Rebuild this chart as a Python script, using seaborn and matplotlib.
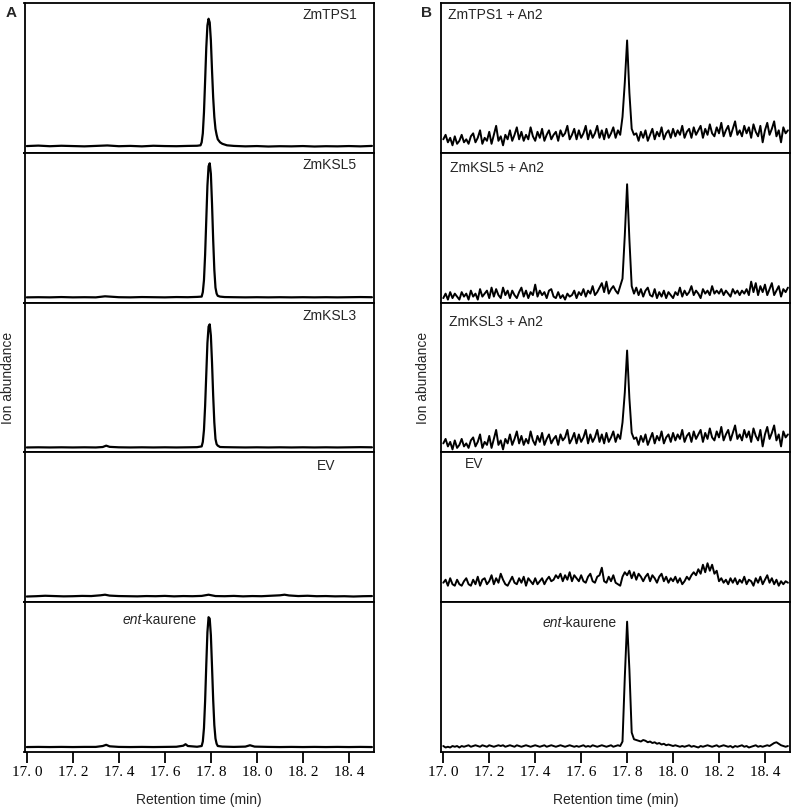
import numpy as np
import pandas as pd
import matplotlib
matplotlib.use("Agg")
import matplotlib.pyplot as plt
import seaborn as sns

sns.set_theme(style="white")
plt.rcParams['font.family'] = ['Liberation Sans', 'DejaVu Sans']

# ---------------- data ----------------
TICKS = [17.0, 17.2, 17.4, 17.6, 17.8, 18.0, 18.2, 18.4]
TICK_LABELS = ["17. 0", "17. 2", "17. 4", "17. 6", "17. 8", "18. 0", "18. 2", "18. 4"]
XLIM = (16.99, 18.509)

LABELS_A = ["ZmTPS1", "ZmKSL5", "ZmKSL3", "EV", "ent-kaurene"]
LABELS_B = ["ZmTPS1 + An2", "ZmKSL5 + An2", "ZmKSL3 + An2", "EV", "ent-kaurene"]

# Panel A traces (retention time, relative abundance)
A1_X = [17.00, 17.05, 17.10, 17.15, 17.20, 17.25, 17.30, 17.35, 17.40, 17.45, 17.50, 17.55,
        17.60, 17.65, 17.70, 17.74, 17.755, 17.76, 17.765, 17.77, 17.775, 17.78, 17.785,
        17.79, 17.795, 17.80, 17.805, 17.81, 17.815, 17.82, 17.825, 17.83, 17.84, 17.85,
        17.87, 17.90, 17.95, 18.00, 18.05, 18.10, 18.15, 18.20, 18.25, 18.30, 18.35, 18.40,
        18.45, 18.50]
A1_Y = [0.045, 0.048, 0.044, 0.047, 0.045, 0.043, 0.046, 0.049, 0.044, 0.046, 0.043, 0.047,
        0.045, 0.044, 0.046, 0.047, 0.05, 0.07, 0.13, 0.27, 0.48, 0.70, 0.85,
        0.895, 0.87, 0.75, 0.55, 0.37, 0.24, 0.16, 0.12, 0.09, 0.07, 0.06,
        0.05, 0.046, 0.043, 0.045, 0.042, 0.044, 0.043, 0.045, 0.042, 0.044, 0.043, 0.045,
        0.043, 0.046]

A2_X = [17.00, 17.05, 17.10, 17.15, 17.20, 17.25, 17.30, 17.34, 17.40, 17.45, 17.50, 17.55,
        17.60, 17.65, 17.70, 17.74, 17.76, 17.765, 17.77, 17.775, 17.78, 17.785, 17.79,
        17.795, 17.80, 17.805, 17.81, 17.815, 17.82, 17.825, 17.83, 17.84, 17.86, 17.90,
        17.95, 18.00, 18.05, 18.10, 18.15, 18.20, 18.25, 18.30, 18.35, 18.40, 18.45, 18.50]
A2_Y = [0.035, 0.036, 0.035, 0.037, 0.035, 0.036, 0.035, 0.042, 0.036, 0.035, 0.037, 0.036,
        0.035, 0.037, 0.036, 0.038, 0.04, 0.07, 0.15, 0.32, 0.55, 0.78, 0.91,
        0.93, 0.86, 0.66, 0.42, 0.22, 0.10, 0.06, 0.045, 0.04, 0.037, 0.036,
        0.035, 0.036, 0.035, 0.036, 0.035, 0.036, 0.035, 0.036, 0.035, 0.036, 0.037, 0.036]

A3_X = [17.00, 17.05, 17.10, 17.15, 17.20, 17.25, 17.30, 17.33, 17.345, 17.36, 17.40, 17.45,
        17.50, 17.55, 17.60, 17.65, 17.70, 17.74, 17.76, 17.765, 17.77, 17.775, 17.78,
        17.785, 17.79, 17.795, 17.80, 17.805, 17.81, 17.815, 17.82, 17.825, 17.83, 17.84,
        17.86, 17.90, 17.95, 18.00, 18.05, 18.10, 18.15, 18.20, 18.25, 18.30, 18.35, 18.40,
        18.45, 18.50]
A3_Y = [0.033, 0.034, 0.033, 0.034, 0.033, 0.034, 0.033, 0.036, 0.045, 0.037, 0.034, 0.033,
        0.034, 0.033, 0.034, 0.033, 0.034, 0.035, 0.04, 0.07, 0.15, 0.31, 0.52,
        0.73, 0.84, 0.855, 0.78, 0.60, 0.38, 0.20, 0.09, 0.055, 0.045, 0.036,
        0.035, 0.034, 0.033, 0.034, 0.033, 0.034, 0.033, 0.034, 0.033, 0.034, 0.033, 0.034,
        0.035, 0.034]

A4_X = [17.00, 17.04, 17.08, 17.12, 17.16, 17.20, 17.24, 17.28, 17.32, 17.34, 17.36, 17.40,
        17.44, 17.48, 17.52, 17.56, 17.60, 17.64, 17.68, 17.72, 17.76, 17.79, 17.82, 17.86,
        17.90, 17.94, 17.98, 18.02, 18.06, 18.10, 18.12, 18.14, 18.18, 18.22, 18.26, 18.30,
        18.34, 18.38, 18.42, 18.46, 18.50]
A4_Y = [0.038, 0.040, 0.043, 0.041, 0.039, 0.040, 0.042, 0.041, 0.046, 0.050, 0.044, 0.041,
        0.040, 0.039, 0.041, 0.040, 0.042, 0.039, 0.041, 0.040, 0.042, 0.050, 0.041, 0.040,
        0.042, 0.039, 0.041, 0.040, 0.043, 0.046, 0.050, 0.045, 0.041, 0.043, 0.040, 0.041,
        0.039, 0.040, 0.038, 0.040, 0.041]

A5_X = [17.00, 17.05, 17.10, 17.15, 17.20, 17.25, 17.30, 17.33, 17.345, 17.36, 17.40, 17.45,
        17.50, 17.55, 17.60, 17.65, 17.68, 17.69, 17.70, 17.74, 17.76, 17.765, 17.77,
        17.775, 17.78, 17.785, 17.79, 17.795, 17.80, 17.805, 17.81, 17.815, 17.82, 17.825,
        17.83, 17.85, 17.90, 17.95, 17.97, 17.99, 18.05, 18.10, 18.15, 18.20, 18.25, 18.30,
        18.35, 18.40, 18.45, 18.50]
A5_Y = [0.033, 0.034, 0.033, 0.034, 0.033, 0.034, 0.034, 0.040, 0.048, 0.038, 0.034, 0.033,
        0.034, 0.033, 0.034, 0.035, 0.042, 0.052, 0.040, 0.035, 0.04, 0.07, 0.16,
        0.34, 0.58, 0.80, 0.90, 0.89, 0.78, 0.57, 0.35, 0.18, 0.09, 0.055,
        0.04, 0.036, 0.034, 0.036, 0.045, 0.036, 0.034, 0.033, 0.034, 0.033, 0.034, 0.033,
        0.034, 0.033, 0.034, 0.033]

# Panel B traces: readings every 0.01 min from 17.00 to 18.50
B1_Y = [0.09, 0.12, 0.07, 0.10, 0.05, 0.11, 0.06, 0.08, 0.12, 0.07,
        0.09, 0.06, 0.11, 0.13, 0.07, 0.10, 0.15, 0.06, 0.10, 0.08,
        0.14, 0.06, 0.12, 0.18, 0.08, 0.11, 0.05, 0.12, 0.09, 0.15,
        0.08, 0.12, 0.17, 0.09, 0.14, 0.08, 0.12, 0.09, 0.17, 0.11,
        0.08, 0.14, 0.10, 0.16, 0.08, 0.12, 0.15, 0.09, 0.12, 0.14,
        0.08, 0.15, 0.11, 0.13, 0.18, 0.09, 0.12, 0.16, 0.09, 0.15,
        0.10, 0.13, 0.18, 0.09, 0.15, 0.10, 0.13, 0.18, 0.10, 0.15,
        0.09, 0.16, 0.10, 0.13, 0.17, 0.10, 0.15, 0.12, 0.24, 0.47,
        0.75, 0.40, 0.16, 0.12, 0.13, 0.08, 0.14, 0.10, 0.15, 0.08,
        0.12, 0.16, 0.09, 0.14, 0.11, 0.17, 0.09, 0.13, 0.15, 0.10,
        0.16, 0.11, 0.15, 0.12, 0.18, 0.10, 0.14, 0.16, 0.10, 0.17,
        0.12, 0.15, 0.18, 0.10, 0.16, 0.12, 0.19, 0.13, 0.11, 0.17,
        0.13, 0.20, 0.11, 0.15, 0.18, 0.11, 0.16, 0.21, 0.12, 0.15,
        0.11, 0.18, 0.13, 0.17, 0.10, 0.19, 0.14, 0.11, 0.18, 0.07,
        0.15, 0.20, 0.12, 0.16, 0.21, 0.11, 0.15, 0.07, 0.17, 0.13,
        0.15]

B2_Y = [0.03, 0.06, 0.02, 0.07, 0.03, 0.06, 0.04, 0.02, 0.07, 0.04,
        0.06, 0.02, 0.08, 0.04, 0.06, 0.02, 0.09, 0.04, 0.06, 0.08,
        0.03, 0.10, 0.04, 0.09, 0.05, 0.03, 0.10, 0.05, 0.08, 0.03,
        0.08, 0.05, 0.03, 0.07, 0.10, 0.04, 0.08, 0.03, 0.07, 0.05,
        0.12, 0.04, 0.08, 0.05, 0.07, 0.03, 0.08, 0.09, 0.04, 0.03,
        0.07, 0.03, 0.05, 0.02, 0.06, 0.04, 0.05, 0.08, 0.03, 0.07,
        0.05, 0.09, 0.04, 0.08, 0.06, 0.11, 0.05, 0.07, 0.10, 0.13,
        0.07, 0.14, 0.06, 0.09, 0.11, 0.08, 0.06, 0.11, 0.16, 0.45,
        0.79, 0.42, 0.11, 0.06, 0.10, 0.05, 0.09, 0.04, 0.08, 0.10,
        0.05, 0.04, 0.09, 0.03, 0.07, 0.04, 0.08, 0.03, 0.07, 0.05,
        0.03, 0.07, 0.05, 0.10, 0.04, 0.08, 0.05, 0.07, 0.11, 0.05,
        0.08, 0.06, 0.03, 0.09, 0.06, 0.08, 0.05, 0.11, 0.06, 0.08,
        0.06, 0.09, 0.05, 0.08, 0.06, 0.04, 0.09, 0.06, 0.08, 0.05,
        0.08, 0.06, 0.09, 0.05, 0.14, 0.07, 0.13, 0.05, 0.11, 0.07,
        0.12, 0.05, 0.09, 0.13, 0.05, 0.08, 0.11, 0.04, 0.09, 0.07,
        0.10]

B3_Y = [0.06, 0.09, 0.04, 0.07, 0.02, 0.08, 0.03, 0.05, 0.09, 0.04,
        0.06, 0.03, 0.08, 0.10, 0.04, 0.07, 0.12, 0.03, 0.07, 0.05,
        0.11, 0.03, 0.09, 0.15, 0.05, 0.08, 0.02, 0.09, 0.06, 0.12,
        0.05, 0.09, 0.14, 0.06, 0.11, 0.05, 0.09, 0.06, 0.14, 0.08,
        0.05, 0.11, 0.07, 0.13, 0.05, 0.09, 0.12, 0.06, 0.09, 0.11,
        0.05, 0.12, 0.08, 0.10, 0.15, 0.06, 0.09, 0.13, 0.06, 0.12,
        0.07, 0.10, 0.15, 0.06, 0.12, 0.07, 0.10, 0.15, 0.07, 0.12,
        0.06, 0.13, 0.07, 0.10, 0.14, 0.07, 0.12, 0.09, 0.20, 0.40,
        0.68, 0.36, 0.13, 0.09, 0.10, 0.05, 0.11, 0.07, 0.12, 0.05,
        0.09, 0.13, 0.06, 0.11, 0.08, 0.14, 0.06, 0.10, 0.12, 0.07,
        0.13, 0.08, 0.12, 0.09, 0.15, 0.07, 0.11, 0.13, 0.07, 0.14,
        0.09, 0.12, 0.15, 0.07, 0.13, 0.09, 0.16, 0.10, 0.08, 0.14,
        0.10, 0.17, 0.08, 0.12, 0.15, 0.08, 0.13, 0.18, 0.09, 0.12,
        0.08, 0.15, 0.10, 0.14, 0.07, 0.16, 0.11, 0.08, 0.15, 0.04,
        0.12, 0.17, 0.09, 0.13, 0.18, 0.08, 0.12, 0.04, 0.14, 0.10,
        0.12]

B4_Y = [0.13, 0.15, 0.11, 0.16, 0.12, 0.11, 0.15, 0.12, 0.11, 0.14,
        0.16, 0.12, 0.11, 0.15, 0.12, 0.17, 0.11, 0.15, 0.16, 0.12,
        0.14, 0.18, 0.12, 0.16, 0.13, 0.19, 0.15, 0.12, 0.11, 0.14,
        0.17, 0.13, 0.12, 0.16, 0.13, 0.17, 0.11, 0.16, 0.14, 0.12,
        0.16, 0.12, 0.14, 0.16, 0.12, 0.15, 0.17, 0.14, 0.15, 0.18,
        0.16, 0.19, 0.14, 0.18, 0.15, 0.20, 0.14, 0.18, 0.16, 0.14,
        0.18, 0.14, 0.13, 0.17, 0.19, 0.14, 0.13, 0.17, 0.18, 0.23,
        0.14, 0.13, 0.17, 0.14, 0.18, 0.13, 0.12, 0.11, 0.17, 0.20,
        0.18, 0.21, 0.16, 0.20, 0.15, 0.19, 0.17, 0.14, 0.17, 0.19,
        0.14, 0.18, 0.16, 0.13, 0.17, 0.19, 0.14, 0.17, 0.13, 0.16,
        0.14, 0.17, 0.13, 0.16, 0.12, 0.14, 0.17, 0.15, 0.18, 0.20,
        0.18, 0.22, 0.19, 0.25, 0.20, 0.26, 0.21, 0.25, 0.19, 0.21,
        0.14, 0.16, 0.13, 0.15, 0.12, 0.16, 0.13, 0.16, 0.12, 0.15,
        0.13, 0.17, 0.12, 0.15, 0.14, 0.11, 0.16, 0.13, 0.17, 0.12,
        0.15, 0.18, 0.13, 0.16, 0.12, 0.15, 0.11, 0.14, 0.12, 0.14,
        0.13]

B5_Y = [0.040, 0.030, 0.035, 0.030, 0.040, 0.035, 0.040, 0.030, 0.040, 0.035,
        0.040, 0.045, 0.035, 0.040, 0.045, 0.040, 0.035, 0.045, 0.040, 0.035,
        0.045, 0.040, 0.035, 0.040, 0.045, 0.040, 0.045, 0.035, 0.040, 0.045,
        0.040, 0.035, 0.045, 0.040, 0.035, 0.040, 0.045, 0.040, 0.035, 0.040,
        0.045, 0.040, 0.035, 0.040, 0.045, 0.035, 0.040, 0.045, 0.040, 0.035,
        0.040, 0.045, 0.040, 0.035, 0.040, 0.045, 0.040, 0.035, 0.040, 0.035,
        0.040, 0.045, 0.035, 0.040, 0.035, 0.045, 0.040, 0.035, 0.040, 0.045,
        0.040, 0.035, 0.040, 0.045, 0.035, 0.040, 0.045, 0.040, 0.070, 0.500,
        0.870, 0.550, 0.130, 0.085, 0.080, 0.075, 0.070, 0.080, 0.075, 0.065,
        0.070, 0.060, 0.065, 0.055, 0.060, 0.050, 0.055, 0.045, 0.050, 0.045,
        0.040, 0.045, 0.040, 0.035, 0.040, 0.035, 0.040, 0.045, 0.035, 0.040,
        0.035, 0.030, 0.040, 0.035, 0.040, 0.045, 0.040, 0.035, 0.040, 0.045,
        0.035, 0.040, 0.045, 0.040, 0.035, 0.040, 0.030, 0.040, 0.035, 0.040,
        0.045, 0.035, 0.040, 0.030, 0.035, 0.040, 0.045, 0.035, 0.040, 0.035,
        0.040, 0.045, 0.040, 0.050, 0.060, 0.065, 0.055, 0.045, 0.040, 0.035,
        0.040]

A_TRACES = [(A1_X, A1_Y), (A2_X, A2_Y), (A3_X, A3_Y), (A4_X, A4_Y), (A5_X, A5_Y)]
B_TRACES = [B1_Y, B2_Y, B3_Y, B4_Y, B5_Y]

# label anchor (axes fraction)
LABEL_POS_A = [(0.795, 0.92), (0.795, 0.917), (0.795, 0.913), (0.836, 0.907), (0.28, 0.88)]
LABEL_POS_B = [(0.02, 0.92), (0.025, 0.90), (0.023, 0.873), (0.069, 0.92), (0.29, 0.864)]

# ---------------- figure ----------------
fig = plt.figure(figsize=(7.93, 8.10), dpi=100)

top = 1 - 3 / 810
bottom = 1 - 752 / 810
h = (top - bottom) / 5
panels = [(24.5 / 793, 349.5 / 793), (441 / 793, 349 / 793)]


def draw_label(ax, text, pos):
    if text == "ent-kaurene":
        t = ax.text(pos[0], pos[1], "ent", transform=ax.transAxes, fontsize=10,
                    style="italic", va="center", ha="left")
        fig.canvas.draw()
        bb = t.get_window_extent().transformed(ax.transAxes.inverted())
        ax.text(bb.x1, pos[1], "-kaurene", transform=ax.transAxes, fontsize=10,
                va="center", ha="left")
    else:
        ax.text(pos[0], pos[1], text, transform=ax.transAxes, fontsize=10,
                va="center", ha="left")


for p, (left, width) in enumerate(panels):
    for i in range(5):
        ax = fig.add_axes([left, top - (i + 1) * h, width, h])
        if p == 0:
            xs, ys = A_TRACES[i]
            df = pd.DataFrame({"t": xs, "y": ys})
            lw = 1.6
        else:
            ys = B_TRACES[i]
            xs = np.linspace(17.0, 18.5, len(ys))
            df = pd.DataFrame({"t": xs, "y": ys})
            lw = 1.4
        sns.lineplot(data=df, x="t", y="y", ax=ax, color="black", linewidth=lw,
                     estimator=None, sort=False)
        ax.set_xlim(*XLIM)
        ax.set_ylim(0, 1)
        ax.set_xlabel("")
        ax.set_ylabel("")
        ax.set_yticks([])
        for s in ax.spines.values():
            s.set_color("black")
            s.set_linewidth(1.3)
        if i < 4:
            ax.set_xticks([])
        else:
            ax.set_xticks(TICKS)
            ax.set_xticklabels(TICK_LABELS, family=["Liberation Serif", "DejaVu Serif"],
                               fontsize=11)
            ax.tick_params(axis="x", direction="out", length=8, width=1.3, pad=2,
                           colors="black", bottom=True)
            ax.set_xlabel("Retention time (min)", fontsize=10, labelpad=10)
        labels = LABELS_A if p == 0 else LABELS_B
        pos = LABEL_POS_A if p == 0 else LABEL_POS_B
        draw_label(ax, labels[i], pos[i])

    # shared y label per panel
    ymid = (top + bottom) / 2
    xlab = 8 / 793 if p == 0 else 423 / 793
    fig.text(xlab, ymid, "Ion abundance", rotation=90, fontsize=10, va="center", ha="center")
    fig.text(6 / 793 if p == 0 else 421 / 793, 1 - 13 / 810, "A" if p == 0 else "B",
             fontsize=11, fontweight="bold", va="center", ha="left")

fig.savefig("out.png", dpi=100)
